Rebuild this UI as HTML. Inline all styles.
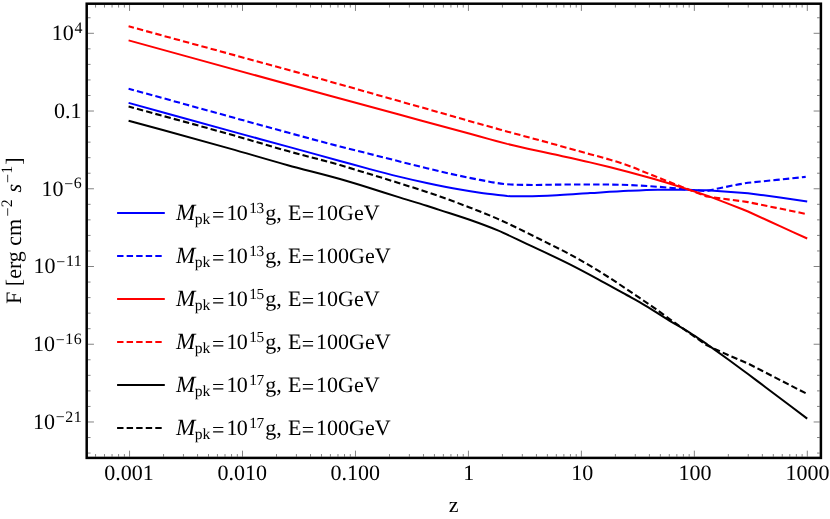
<!DOCTYPE html>
<html><head><meta charset="utf-8"><title>plot</title>
<style>
html,body{margin:0;padding:0;background:#fff;}
svg{display:block;position:absolute;left:0;top:0;font-family:"Liberation Serif",serif;fill:#000;will-change:transform;transform:translateZ(0);text-rendering:geometricPrecision;}
</style></head><body>
<svg width="830" height="519" viewBox="0 0 830 519">
<path d="M128.60,102.91C165.73,113.14 202.87,123.46 240.00,133.60C255.93,137.95 271.87,142.24 287.80,146.60C305.20,151.36 322.60,156.23 340.00,161.00C349.63,163.64 359.27,166.33 368.90,168.90C378.53,171.47 388.17,174.05 397.80,176.40C407.43,178.75 417.07,180.94 426.70,183.00C437.80,185.38 448.90,187.66 460.00,189.60C466.67,190.76 473.33,191.84 480.00,192.80C489.10,194.11 498.20,195.00 507.30,196.10C511.07,196.17 514.83,196.27 518.60,196.30C521.30,196.32 524.00,196.32 526.70,196.30C537.80,196.22 548.90,195.58 560.00,195.00C570.00,194.48 580.00,193.72 590.00,193.10C602.87,192.31 615.73,191.41 628.60,190.80C638.33,190.34 648.07,189.86 657.80,189.70C668.40,189.52 679.00,189.72 689.60,189.90C695.40,190.00 701.20,190.17 707.00,190.30C720.67,191.27 734.33,192.23 748.00,193.20C758.67,194.63 769.33,196.01 780.00,197.50C789.07,198.76 798.13,200.10 807.20,201.40" fill="none" stroke="#0000ff" stroke-width="2.0" stroke-linejoin="round"/>
<path d="M128.60,88.71C165.73,98.94 202.87,109.15 240.00,119.40C255.93,123.80 271.87,128.28 287.80,132.60C305.20,137.32 322.60,142.06 340.00,146.50C349.63,148.96 359.27,151.28 368.90,153.70C378.53,156.12 388.17,158.58 397.80,161.00C407.43,163.42 417.07,165.89 426.70,168.20C437.80,170.87 448.90,173.49 460.00,175.85C466.67,177.27 473.33,178.66 480.00,179.90C488.33,181.45 496.67,183.23 505.00,184.05C512.23,184.76 519.47,184.75 526.70,184.90C537.80,185.12 548.90,184.67 560.00,184.60C570.00,184.54 580.00,184.46 590.00,184.50C602.87,184.55 615.73,184.45 628.60,185.00C635.00,185.27 641.40,185.68 647.80,186.10C654.23,186.52 660.67,186.93 667.10,187.50C674.60,188.16 682.10,189.25 689.60,189.90C695.23,190.39 700.87,190.70 706.50,191.10C710.77,190.17 715.03,189.20 719.30,188.30C725.73,186.94 732.17,185.56 738.60,184.40C741.73,183.83 744.87,183.33 748.00,182.80C757.57,181.83 767.13,180.89 776.70,179.90C786.37,178.90 796.03,177.87 805.70,176.85" fill="none" stroke="#0000ff" stroke-width="2.1" stroke-linejoin="round" stroke-dasharray="6.4 3.15" stroke-dashoffset="0.9"/>
<path d="M128.60,40.41C195.07,58.67 261.53,77.06 328.00,95.20C352.00,101.75 376.00,108.28 400.00,114.80C423.33,121.14 446.67,127.41 470.00,133.80C476.43,135.56 482.87,137.35 489.30,139.10C495.23,140.71 501.17,142.30 507.10,143.90C514.00,145.50 520.90,147.14 527.80,148.70C535.20,150.37 542.60,151.93 550.00,153.55C563.33,156.47 576.67,159.23 590.00,162.35C596.43,163.86 602.87,165.39 609.30,167.00C615.73,168.61 622.17,170.28 628.60,172.00C635.00,173.71 641.40,175.49 647.80,177.30C655.20,179.39 662.60,181.51 670.00,183.75C676.53,185.73 683.07,187.80 689.60,189.90C695.40,191.76 701.20,193.70 707.00,195.60C714.00,198.27 721.00,200.88 728.00,203.60C734.67,206.19 741.33,208.87 748.00,211.50C758.67,216.37 769.33,221.24 780.00,226.10C789.07,230.23 798.13,234.37 807.20,238.50" fill="none" stroke="#ff0000" stroke-width="2.0" stroke-linejoin="round"/>
<path d="M128.60,26.31C195.07,44.54 261.53,62.33 328.00,81.00C345.33,85.87 362.67,90.80 380.00,95.70C403.13,102.24 426.27,108.70 449.40,115.30C456.27,117.26 463.13,119.26 470.00,121.20C482.87,124.84 495.73,128.37 508.60,131.90C522.40,135.68 536.20,139.32 550.00,143.10C563.33,146.75 576.67,150.53 590.00,154.20C596.43,155.97 602.87,157.58 609.30,159.50C615.73,161.42 622.17,163.38 628.60,165.70C635.00,168.01 641.40,170.84 647.80,173.40C654.23,175.97 660.67,178.56 667.10,181.10C674.60,184.07 682.10,186.99 689.60,189.90C695.30,192.11 701.00,194.30 706.70,196.50C720.47,198.37 734.23,200.23 748.00,202.10C767.73,206.12 787.47,210.13 807.20,214.15" fill="none" stroke="#ff0000" stroke-width="2.1" stroke-linejoin="round" stroke-dasharray="6.4 3.15" stroke-dashoffset="0.9"/>
<path d="M128.60,120.71C162.40,130.01 196.20,139.04 230.00,148.60C249.27,154.05 268.53,159.90 287.80,165.20C305.20,169.99 322.60,173.99 340.00,179.00C349.63,181.77 359.27,184.72 368.90,187.70C378.53,190.68 388.17,193.88 397.80,196.90C407.43,199.92 417.07,202.73 426.70,205.80C431.13,207.21 435.57,208.66 440.00,210.10C449.63,213.22 459.27,216.12 468.90,219.50C478.53,222.88 488.17,226.33 497.80,230.40C507.43,234.47 517.07,239.37 526.70,243.90C540.77,250.51 554.83,256.80 568.90,263.90C578.53,268.76 588.17,273.92 597.80,279.10C607.43,284.28 617.07,289.71 626.70,295.00C631.13,297.44 635.57,299.76 640.00,302.30C649.63,307.81 659.27,314.44 668.90,320.30C675.93,324.58 682.97,328.44 690.00,332.90C695.67,336.50 701.33,340.43 707.00,344.20C714.20,349.40 721.40,354.56 728.60,359.80C735.07,364.50 741.53,369.27 748.00,374.00C753.83,378.40 759.67,382.80 765.50,387.20C779.40,397.68 793.30,408.13 807.20,418.60" fill="none" stroke="#000000" stroke-width="2.0" stroke-linejoin="round"/>
<path d="M128.60,106.56C165.73,116.77 202.87,126.58 240.00,137.20C255.93,141.76 271.87,146.64 287.80,151.10C305.20,155.97 322.60,160.07 340.00,165.10C349.63,167.89 359.27,170.87 368.90,173.80C378.53,176.73 388.17,179.67 397.80,182.70C407.43,185.73 417.07,188.79 426.70,192.00C431.13,193.48 435.57,194.96 440.00,196.50C449.63,199.86 459.27,203.47 468.90,207.20C478.53,210.93 488.17,214.67 497.80,218.90C507.43,223.13 517.07,227.84 526.70,232.60C531.13,234.79 535.57,237.07 540.00,239.30C549.63,244.15 559.27,248.62 568.90,253.80C578.53,258.98 588.17,264.50 597.80,270.40C607.43,276.30 617.07,282.76 626.70,289.20C631.13,292.16 635.57,295.19 640.00,298.20C645.23,301.75 650.47,305.20 655.70,308.90C660.10,312.01 664.50,315.34 668.90,318.50C675.93,323.56 682.97,328.43 690.00,333.40C695.67,337.40 701.33,341.40 707.00,345.40C714.20,348.67 721.40,352.03 728.60,355.20C735.07,358.05 741.53,360.73 748.00,363.50C759.30,369.33 770.60,375.18 781.90,381.00C790.33,385.34 798.77,389.67 807.20,394.00" fill="none" stroke="#000000" stroke-width="2.1" stroke-linejoin="round" stroke-dasharray="6.4 3.15" stroke-dashoffset="0.9"/>
<path d="M95.55,456.65v-2.60M95.55,4.95v2.60M104.49,456.65v-2.60M104.49,4.95v2.60M112.05,456.65v-2.60M112.05,4.95v2.60M118.60,456.65v-2.60M118.60,4.95v2.60M124.38,456.65v-2.60M124.38,4.95v2.60M129.55,456.65v-6.00M129.55,4.95v6.00M163.55,456.65v-2.60M163.55,4.95v2.60M183.45,456.65v-2.60M183.45,4.95v2.60M197.56,456.65v-2.60M197.56,4.95v2.60M208.51,456.65v-2.60M208.51,4.95v2.60M217.45,456.65v-2.60M217.45,4.95v2.60M225.01,456.65v-2.60M225.01,4.95v2.60M231.56,456.65v-2.60M231.56,4.95v2.60M237.34,456.65v-2.60M237.34,4.95v2.60M242.51,456.65v-6.00M242.51,4.95v6.00M276.51,456.65v-2.60M276.51,4.95v2.60M296.41,456.65v-2.60M296.41,4.95v2.60M310.52,456.65v-2.60M310.52,4.95v2.60M321.47,456.65v-2.60M321.47,4.95v2.60M330.41,456.65v-2.60M330.41,4.95v2.60M337.97,456.65v-2.60M337.97,4.95v2.60M344.52,456.65v-2.60M344.52,4.95v2.60M350.30,456.65v-2.60M350.30,4.95v2.60M355.47,456.65v-6.00M355.47,4.95v6.00M389.47,456.65v-2.60M389.47,4.95v2.60M409.37,456.65v-2.60M409.37,4.95v2.60M423.48,456.65v-2.60M423.48,4.95v2.60M434.43,456.65v-2.60M434.43,4.95v2.60M443.37,456.65v-2.60M443.37,4.95v2.60M450.93,456.65v-2.60M450.93,4.95v2.60M457.48,456.65v-2.60M457.48,4.95v2.60M463.26,456.65v-2.60M463.26,4.95v2.60M468.43,456.65v-6.00M468.43,4.95v6.00M502.43,456.65v-2.60M502.43,4.95v2.60M522.33,456.65v-2.60M522.33,4.95v2.60M536.44,456.65v-2.60M536.44,4.95v2.60M547.39,456.65v-2.60M547.39,4.95v2.60M556.33,456.65v-2.60M556.33,4.95v2.60M563.89,456.65v-2.60M563.89,4.95v2.60M570.44,456.65v-2.60M570.44,4.95v2.60M576.22,456.65v-2.60M576.22,4.95v2.60M581.39,456.65v-6.00M581.39,4.95v6.00M615.39,456.65v-2.60M615.39,4.95v2.60M635.29,456.65v-2.60M635.29,4.95v2.60M649.40,456.65v-2.60M649.40,4.95v2.60M660.35,456.65v-2.60M660.35,4.95v2.60M669.29,456.65v-2.60M669.29,4.95v2.60M676.85,456.65v-2.60M676.85,4.95v2.60M683.40,456.65v-2.60M683.40,4.95v2.60M689.18,456.65v-2.60M689.18,4.95v2.60M694.35,456.65v-6.00M694.35,4.95v6.00M728.35,456.65v-2.60M728.35,4.95v2.60M748.25,456.65v-2.60M748.25,4.95v2.60M762.36,456.65v-2.60M762.36,4.95v2.60M773.31,456.65v-2.60M773.31,4.95v2.60M782.25,456.65v-2.60M782.25,4.95v2.60M789.81,456.65v-2.60M789.81,4.95v2.60M796.36,456.65v-2.60M796.36,4.95v2.60M802.14,456.65v-2.60M802.14,4.95v2.60M807.31,456.65v-6.00M807.31,4.95v6.00M87.95,453.07h2.60M819.65,453.07h-2.60M87.95,437.52h2.60M819.65,437.52h-2.60M87.95,421.98h6.00M819.65,421.98h-6.00M87.95,406.43h2.60M819.65,406.43h-2.60M87.95,390.88h2.60M819.65,390.88h-2.60M87.95,375.33h2.60M819.65,375.33h-2.60M87.95,359.79h2.60M819.65,359.79h-2.60M87.95,344.24h6.00M819.65,344.24h-6.00M87.95,328.69h2.60M819.65,328.69h-2.60M87.95,313.15h2.60M819.65,313.15h-2.60M87.95,297.60h2.60M819.65,297.60h-2.60M87.95,282.05h2.60M819.65,282.05h-2.60M87.95,266.50h6.00M819.65,266.50h-6.00M87.95,250.96h2.60M819.65,250.96h-2.60M87.95,235.41h2.60M819.65,235.41h-2.60M87.95,219.86h2.60M819.65,219.86h-2.60M87.95,204.32h2.60M819.65,204.32h-2.60M87.95,188.77h6.00M819.65,188.77h-6.00M87.95,173.22h2.60M819.65,173.22h-2.60M87.95,157.68h2.60M819.65,157.68h-2.60M87.95,142.13h2.60M819.65,142.13h-2.60M87.95,126.58h2.60M819.65,126.58h-2.60M87.95,111.03h6.00M819.65,111.03h-6.00M87.95,95.49h2.60M819.65,95.49h-2.60M87.95,79.94h2.60M819.65,79.94h-2.60M87.95,64.39h2.60M819.65,64.39h-2.60M87.95,48.85h2.60M819.65,48.85h-2.60M87.95,33.30h6.00M819.65,33.30h-6.00M87.95,17.75h2.60M819.65,17.75h-2.60" fill="none" stroke="#5a5a5a" stroke-width="0.75"/>
<rect x="86.7" y="3.7" width="734.20" height="454.20" fill="none" stroke="#000" stroke-width="2.5"/>
<path d="M117.1,213.0H164.8" fill="none" stroke="#0000ff" stroke-width="2"/>
<path d="M117.1,256.0H164.8" fill="none" stroke="#0000ff" stroke-width="2" stroke-dasharray="6.4 3.15"/>
<path d="M117.1,299.0H164.8" fill="none" stroke="#ff0000" stroke-width="2"/>
<path d="M117.1,342.0H164.8" fill="none" stroke="#ff0000" stroke-width="2" stroke-dasharray="6.4 3.15"/>
<path d="M117.1,385.0H164.8" fill="none" stroke="#000000" stroke-width="2"/>
<path d="M117.1,428.0H164.8" fill="none" stroke="#000000" stroke-width="2" stroke-dasharray="6.4 3.15"/>
<text x="128.95" y="480.10" font-size="22.0" text-anchor="middle">0.001</text>
<text x="242.31" y="480.10" font-size="22.0" text-anchor="middle">0.010</text>
<text x="355.37" y="480.10" font-size="22.0" text-anchor="middle">0.100</text>
<text x="468.63" y="480.10" font-size="22.0" text-anchor="middle">1</text>
<text x="582.29" y="480.10" font-size="22.0" text-anchor="middle">10</text>
<text x="695.05" y="480.10" font-size="22.0" text-anchor="middle">100</text>
<text x="807.51" y="480.10" font-size="22.0" text-anchor="middle">1000</text>
<text x="83.0" y="40.20" font-size="22.0" text-anchor="end">10<tspan dx="0.7" dy="-7.3" font-size="15.9" letter-spacing="0.6">4</tspan></text>
<text x="81.50" y="117.94" font-size="22.0" text-anchor="end">0.1</text>
<text x="82.4" y="195.67" font-size="22.0" text-anchor="end">10<tspan dx="0.7" dy="-6.4" font-size="15.9" letter-spacing="0.6">−</tspan><tspan dy="-0.9" font-size="15.9" letter-spacing="0.6">6</tspan></text>
<text x="82.4" y="273.40" font-size="22.0" text-anchor="end">10<tspan dx="0.7" dy="-6.4" font-size="15.9" letter-spacing="0.6">−</tspan><tspan dy="-0.9" font-size="15.9" letter-spacing="0.6">11</tspan></text>
<text x="82.4" y="351.14" font-size="22.0" text-anchor="end">10<tspan dx="0.7" dy="-6.4" font-size="15.9" letter-spacing="0.6">−</tspan><tspan dy="-0.9" font-size="15.9" letter-spacing="0.6">16</tspan></text>
<text x="82.4" y="428.88" font-size="22.0" text-anchor="end">10<tspan dx="0.7" dy="-6.4" font-size="15.9" letter-spacing="0.6">−</tspan><tspan dy="-0.9" font-size="15.9" letter-spacing="0.6">21</tspan></text>
<text x="175.90" y="220.25" font-size="23.2" font-style="italic">M</text>
<text x="194.80" y="223.95" font-size="15.6">pk</text>
<text x="212.00" y="221.75" font-size="22.0">=</text>
<text x="226.60" y="220.25" font-size="22.0" letter-spacing="-0.9">10</text>
<text x="249.20" y="213.35" font-size="15.4" letter-spacing="-0.4">13</text>
<text x="265.30" y="220.25" font-size="22.0">g,</text>
<text x="287.90" y="220.25" font-size="22.0">E</text>
<text x="301.70" y="221.75" font-size="22.0">=</text>
<text x="316.00" y="220.25" font-size="22.0">10GeV</text>
<text x="175.90" y="263.25" font-size="23.2" font-style="italic">M</text>
<text x="194.80" y="266.95" font-size="15.6">pk</text>
<text x="212.00" y="264.75" font-size="22.0">=</text>
<text x="226.60" y="263.25" font-size="22.0" letter-spacing="-0.9">10</text>
<text x="249.20" y="256.35" font-size="15.4" letter-spacing="-0.4">13</text>
<text x="265.30" y="263.25" font-size="22.0">g,</text>
<text x="287.90" y="263.25" font-size="22.0">E</text>
<text x="301.70" y="264.75" font-size="22.0">=</text>
<text x="316.00" y="263.25" font-size="22.0">100GeV</text>
<text x="175.90" y="306.25" font-size="23.2" font-style="italic">M</text>
<text x="194.80" y="309.95" font-size="15.6">pk</text>
<text x="212.00" y="307.75" font-size="22.0">=</text>
<text x="226.60" y="306.25" font-size="22.0" letter-spacing="-0.9">10</text>
<text x="249.20" y="299.35" font-size="15.4" letter-spacing="-0.4">15</text>
<text x="265.30" y="306.25" font-size="22.0">g,</text>
<text x="287.90" y="306.25" font-size="22.0">E</text>
<text x="301.70" y="307.75" font-size="22.0">=</text>
<text x="316.00" y="306.25" font-size="22.0">10GeV</text>
<text x="175.90" y="349.25" font-size="23.2" font-style="italic">M</text>
<text x="194.80" y="352.95" font-size="15.6">pk</text>
<text x="212.00" y="350.75" font-size="22.0">=</text>
<text x="226.60" y="349.25" font-size="22.0" letter-spacing="-0.9">10</text>
<text x="249.20" y="342.35" font-size="15.4" letter-spacing="-0.4">15</text>
<text x="265.30" y="349.25" font-size="22.0">g,</text>
<text x="287.90" y="349.25" font-size="22.0">E</text>
<text x="301.70" y="350.75" font-size="22.0">=</text>
<text x="316.00" y="349.25" font-size="22.0">100GeV</text>
<text x="175.90" y="392.25" font-size="23.2" font-style="italic">M</text>
<text x="194.80" y="395.95" font-size="15.6">pk</text>
<text x="212.00" y="393.75" font-size="22.0">=</text>
<text x="226.60" y="392.25" font-size="22.0" letter-spacing="-0.9">10</text>
<text x="249.20" y="385.35" font-size="15.4" letter-spacing="-0.4">17</text>
<text x="265.30" y="392.25" font-size="22.0">g,</text>
<text x="287.90" y="392.25" font-size="22.0">E</text>
<text x="301.70" y="393.75" font-size="22.0">=</text>
<text x="316.00" y="392.25" font-size="22.0">10GeV</text>
<text x="175.90" y="435.25" font-size="23.2" font-style="italic">M</text>
<text x="194.80" y="438.95" font-size="15.6">pk</text>
<text x="212.00" y="436.75" font-size="22.0">=</text>
<text x="226.60" y="435.25" font-size="22.0" letter-spacing="-0.9">10</text>
<text x="249.20" y="428.35" font-size="15.4" letter-spacing="-0.4">17</text>
<text x="265.30" y="435.25" font-size="22.0">g,</text>
<text x="287.90" y="435.25" font-size="22.0">E</text>
<text x="301.70" y="436.75" font-size="22.0">=</text>
<text x="316.00" y="435.25" font-size="22.0">100GeV</text>
<text x="453.60" y="512.40" font-size="22.0" text-anchor="middle">z</text>
<text transform="translate(20.50,303.90) rotate(-90)" font-size="22.0">F [erg cm</text>
<text transform="translate(12.60,216.40) rotate(-90)" font-size="15.9">−</text>
<text transform="translate(11.70,207.20) rotate(-90)" font-size="15.9">2</text>
<text transform="translate(20.50,192.60) rotate(-90)" font-size="22.0" font-style="italic">s</text>
<text transform="translate(12.60,183.00) rotate(-90)" font-size="15.9">−</text>
<text transform="translate(11.70,173.80) rotate(-90)" font-size="15.9">1</text>
<text transform="translate(20.50,164.70) rotate(-90)" font-size="22.0">]</text>
</svg>
</body></html>
